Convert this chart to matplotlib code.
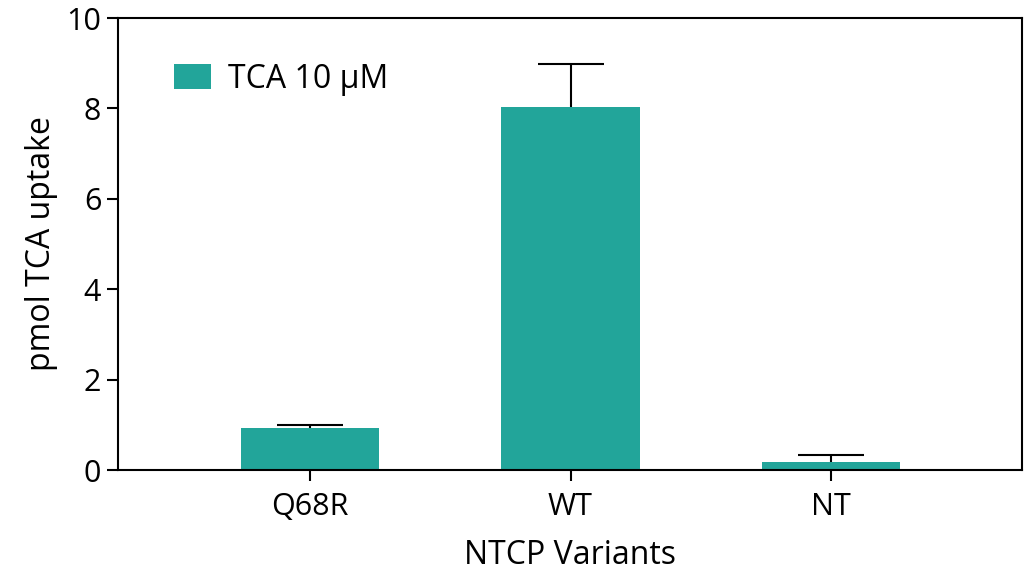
import matplotlib
matplotlib.use("Agg")
import matplotlib.pyplot as plt

categories = ["Q68R", "WT", "NT"]
values = [0.93, 8.03, 0.18]
errors = [0.07, 0.95, 0.15]
series_label = "TCA 10 µM"
color = "#22A59A"

plt.rcParams['font.family'] = ['Open Sans', 'DejaVu Sans']

fig = plt.figure(figsize=(10.25, 5.7), dpi=100)
ax = fig.add_axes([118/1025, 1 - 470/570, (1022-118)/1025, (470-18)/570])

x = list(range(len(categories)))
ax.bar(x, values, width=0.53, color=color, label=series_label, zorder=2)
eb = ax.errorbar(x, values, yerr=[[0]*len(errors), errors], fmt='none',
                 ecolor='black', elinewidth=1.5, capsize=24, capthick=1.5, zorder=3)
# hide lower caps (one-sided error bars)
caplines = eb[1]
if len(caplines) >= 2:
    caplines[0].set_visible(False)

ax.set_xlim(-0.737, 2.733)
ax.set_ylim(0, 10)
ax.set_yticks([0, 2, 4, 6, 8, 10])
ax.set_xticks(x)
ax.set_xticklabels(categories)
ax.tick_params(axis='both', labelsize=22, length=8, width=1.5, direction='out')
ax.tick_params(axis='x', pad=8)
ax.tick_params(axis='y', pad=4)
for s in ax.spines.values():
    s.set_linewidth(1.5)
ax.set_ylabel("pmol TCA uptake", fontsize=23, labelpad=6)
ax.set_xlabel("NTCP Variants", fontsize=23, labelpad=12)

leg = ax.legend(loc='upper left', bbox_to_anchor=(0.03, 0.965), frameon=False,
                fontsize=23, handlelength=1.15, handleheight=0.8, handletextpad=0.55)

fig.savefig("out.png", dpi=100)
